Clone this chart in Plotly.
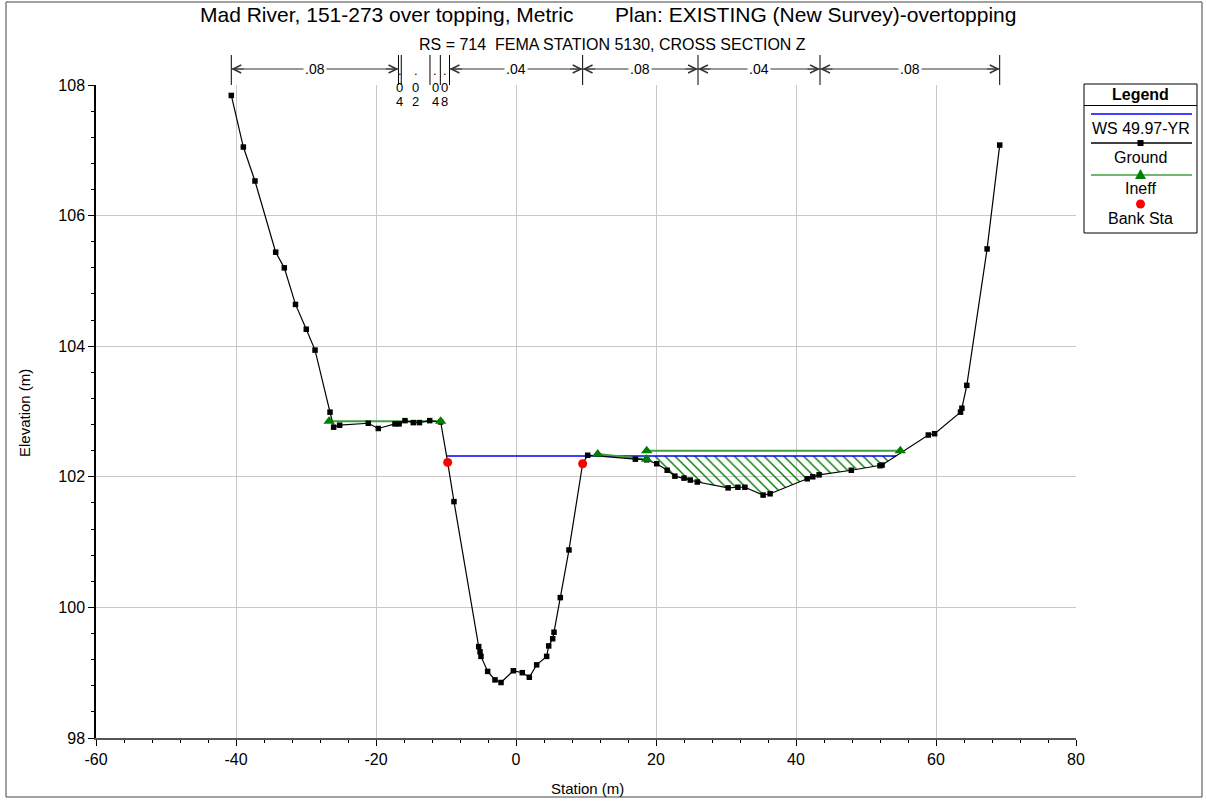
import numpy as np
import plotly.graph_objects as go

# ---- Cross-section data ------------------------------------------------------
ground_sta = [-40.67, -38.95, -37.29, -34.33, -33.10, -31.50, -29.96, -28.71, -26.57, -26.05,
              -25.19, -21.10, -19.67, -17.29, -16.70, -15.86, -14.67, -13.80, -12.33, -10.76,
              -9.76, -8.86, -5.33, -5.14, -5.00, -4.05, -3.00, -2.14, -0.38, 0.90,
              1.90, 2.95, 4.38, 4.67, 5.24, 5.43, 6.33, 7.57, 9.52, 10.24,
              17.05, 18.67, 20.10, 21.60, 22.70, 24.00, 24.90, 25.90, 30.30, 31.70,
              32.70, 35.30, 36.30, 41.60, 42.40, 43.30, 47.90, 52.00, 52.30, 58.90,
              59.80, 63.50, 63.70, 64.40, 67.30, 69.10]
ground_elev = [107.84, 107.05, 106.53, 105.44, 105.20, 104.64, 104.26, 103.94, 102.99, 102.76,
               102.79, 102.82, 102.74, 102.81, 102.81, 102.86, 102.83, 102.83, 102.86, 102.84,
               102.22, 101.62, 99.40, 99.32, 99.25, 99.02, 98.89, 98.85, 99.03, 99.00,
               98.93, 99.12, 99.25, 99.41, 99.52, 99.62, 100.15, 100.88, 102.20, 102.33,
               102.27, 102.26, 102.20, 102.10, 102.01, 101.98, 101.95, 101.92, 101.83, 101.84,
               101.84, 101.72, 101.74, 101.97, 102.00, 102.03, 102.10, 102.17, 102.18, 102.64,
               102.66, 102.99, 103.05, 103.40, 105.49, 107.08]

bank_sta = [-9.76, 9.52]
bank_elev = [102.22, 102.20]

ws_elev = 102.32
ws_name = "WS 49.97-YR"

# Ineffective flow areas (start/end station and elevation)
ineff_sta = [[-26.70, -10.76], [11.67, 18.67], [18.67, 54.90]]
ineff_elev = [[102.85, 102.85], [102.35, 102.27], [102.40, 102.40]]
hatch_area = [18.67, 54.90]

# Manning's n breakpoints and values
n_sta = [-40.67, -16.79, -16.39, -12.29, -10.81, -9.50, 9.52, 26.00, 43.43, 69.10]
n_val = [".08", ".04", ".02", ".04", ".08", ".04", ".08", ".04", ".08"]

x_ticks = [-60, -40, -20, 0, 20, 40, 60, 80]
x_ticktext = ["-60", "-40", "-20", "0", "20", "40", "60", "80"]
y_ticks = [98, 100, 102, 104, 106, 108]

title_left = "Mad River, 151-273 over topping, Metric"
title_right = "Plan: EXISTING (New Survey)-overtopping"
subtitle = "RS = 714  FEMA STATION 5130, CROSS SECTION Z"

# ---- Page geometry ---------------------------------------------------------
W, H = 1207, 801
L, R, T, B = 96, 1076, 85, 738
FONT = "Liberation Sans, Arial, sans-serif"


def fx(p):
    return (p - L) / (R - L)


def fy(p):
    return (B - p) / (B - T)


def label(x, y, text, size, xref="paper", **kw):
    d = dict(xref=xref, yref="paper", x=x, y=y, text=text, showarrow=False,
             xanchor="center", yanchor="middle",
             font=dict(family=FONT, size=size, color="black"))
    d.update(kw)
    return d


gs = np.array(ground_sta)
ge = np.array(ground_elev)


# water surface extent: where the ground crosses the WS on each side
def crossing(i0, i1):
    x0, x1, y0, y1 = gs[i0], gs[i1], ge[i0], ge[i1]
    return x0 + (ws_elev - y0) / (y1 - y0) * (x1 - x0)


il = int(np.where(gs == bank_sta[0])[0][0])
ws_left = crossing(il - 1, il)
right_idx = np.where(gs > hatch_area[0])[0]
ir = int(right_idx[np.argmax(ge[right_idx] > ws_elev)])
ws_right = crossing(ir - 1, ir)

# hatched ineffective region between WS and ground
h0 = hatch_area[0]
h1 = min(hatch_area[1], ws_right)
inside = (gs > h0) & (gs < h1)
hx = [h0, h0] + list(gs[inside]) + [h1, h0]
hy = [ws_elev, float(np.interp(h0, gs, ge))] + list(ge[inside]) + [ws_elev, ws_elev]

fig = go.Figure()

fig.add_trace(go.Scatter(
    x=hx, y=hy, mode="lines", fill="toself", line=dict(width=0),
    fillcolor="rgba(0,0,0,0)",
    fillpattern=dict(shape="\\", fgcolor="#007a00", bgcolor="rgba(0,0,0,0)",
                     fgopacity=1, size=7, solidity=0.2),
    hoverinfo="skip", showlegend=False))

fig.add_trace(go.Scatter(
    x=[ws_left, ws_right], y=[ws_elev, ws_elev], mode="lines",
    line=dict(color="#0000ff", width=1.5), name=ws_name, showlegend=False))

ix, iy = [], []
for s, e in zip(ineff_sta, ineff_elev):
    ix += s + [None]
    iy += e + [None]
fig.add_trace(go.Scatter(
    x=ix, y=iy, mode="lines", line=dict(color="#3fa03f", width=2),
    showlegend=False, hoverinfo="skip"))

fig.add_trace(go.Scatter(
    x=ground_sta, y=ground_elev, mode="lines+markers", name="Ground",
    line=dict(color="black", width=1.2),
    marker=dict(symbol="square", size=5.5, color="black"), showlegend=False))

fig.add_trace(go.Scatter(
    x=ix, y=iy, mode="markers", name="Ineff",
    marker=dict(symbol="triangle-up", size=10, color="#008000"), showlegend=False))

fig.add_trace(go.Scatter(
    x=bank_sta, y=bank_elev, mode="markers", name="Bank Sta",
    marker=dict(symbol="circle", size=9, color="#ff0000"), showlegend=False))

shapes = []
annotations = []

# outer frame
shapes.append(dict(type="rect", xref="paper", yref="paper",
                   x0=fx(6), x1=fx(1202), y0=fy(797), y1=fy(2),
                   line=dict(color="#444444", width=1)))

# titles
annotations.append(label(fx(387), fy(14), title_left, 21))
annotations.append(label(fx(815), fy(14), title_right, 21))
annotations.append(label(fx(612), fy(44), subtitle, 16))

# Manning's n brackets
y_arrow = fy(69)
for s in n_sta:
    shapes.append(dict(type="line", xref="x", yref="paper", x0=s, x1=s,
                       y0=fy(85), y1=fy(55), line=dict(color="black", width=1)))
for s0, s1, v in zip(n_sta[:-1], n_sta[1:], n_val):
    mid = 0.5 * (s0 + s1)
    if s1 - s0 > 8:
        shapes.append(dict(type="line", xref="x", yref="paper", x0=s0, x1=s1,
                           y0=y_arrow, y1=y_arrow, line=dict(color="#333333", width=1)))
        for xe, off in ((s0, 14), (s1, -14)):
            annotations.append(dict(xref="x", yref="paper", x=xe, y=y_arrow, ax=off, ay=0,
                                    text="", showarrow=True, arrowhead=5, arrowsize=1.6,
                                    arrowwidth=1, arrowcolor="#333333", standoff=0))
        annotations.append(label(mid, y_arrow, v, 14, xref="x", bgcolor="white", borderpad=1))
    else:
        for ch, yy in zip(v, (70, 87, 101)):
            annotations.append(label(mid, fy(yy), ch, 13, xref="x"))

# axis titles
annotations.append(label(fx(587), fy(788), "Station (m)", 15))
annotations.append(label(fx(24), fy(413), "Elevation (m)", 15, textangle=-90))

# legend panel
lx0, lx1, lxc = 1084, 1197, 1140.5
shapes.append(dict(type="rect", xref="paper", yref="paper", x0=fx(lx0), x1=fx(lx1),
                   y0=fy(233), y1=fy(84), line=dict(color="black", width=1),
                   fillcolor="white"))
shapes.append(dict(type="line", xref="paper", yref="paper", x0=fx(lx0), x1=fx(lx1),
                   y0=fy(105.5), y1=fy(105.5), line=dict(color="black", width=1)))
annotations.append(label(fx(lxc), fy(95), "<b>Legend</b>", 16))
legend_rows = [(ws_name, 114, 128, "#0000ff", None),
               ("Ground", 143, 157, "black", "square"),
               ("Ineff", 175, 188, "#3fa03f", "triangle"),
               ("Bank Sta", None, 218, None, "circle")]
for name, yl, yt, col, mk in legend_rows:
    if yl is not None:
        shapes.append(dict(type="line", xref="paper", yref="paper", x0=fx(1091), x1=fx(1192),
                           y0=fy(yl), y1=fy(yl), line=dict(color=col, width=1.5)))
    if mk == "square":
        shapes.append(dict(type="rect", xref="paper", yref="paper",
                           x0=fx(lxc - 3), x1=fx(lxc + 3), y0=fy(yl + 3), y1=fy(yl - 3),
                           fillcolor="black", line=dict(width=0)))
    elif mk == "triangle":
        shapes.append(dict(type="path", xref="paper", yref="paper",
                           path="M {} {} L {} {} L {} {} Z".format(
                               fx(lxc - 5.5), fy(yl + 4), fx(lxc + 5.5), fy(yl + 4),
                               fx(lxc), fy(yl - 6)),
                           fillcolor="#008000", line=dict(width=0)))
    elif mk == "circle":
        shapes.append(dict(type="circle", xref="paper", yref="paper",
                           x0=fx(lxc - 4.5), x1=fx(lxc + 4.5), y0=fy(204 + 4.5), y1=fy(204 - 4.5),
                           fillcolor="#ff0000", line=dict(width=0)))
    annotations.append(label(fx(lxc), fy(yt), name, 16))

fig.update_layout(
    width=W, height=H, autosize=False,
    margin=dict(l=L, r=W - R, t=T, b=H - B, pad=0),
    paper_bgcolor="white", plot_bgcolor="white",
    showlegend=False,
    shapes=shapes, annotations=annotations,
    xaxis=dict(range=[-60, 80], tickvals=x_ticks, ticktext=x_ticktext, ticks="outside",
               ticklen=6, tickcolor="black", showline=True, linecolor="#555555", linewidth=2,
               showgrid=True, gridcolor="#c8c8c8", gridwidth=1, zeroline=False,
               tickfont=dict(family=FONT, size=16, color="black"),
               minor=dict(tick0=0, dtick=4, ticks="outside", ticklen=3, tickcolor="black",
                          showgrid=False)),
    yaxis=dict(range=[98, 108], tickvals=y_ticks, ticks="outside", ticklen=6,
               tickcolor="black", showline=True, linecolor="black", linewidth=1.5,
               showgrid=True, gridcolor="#c8c8c8", gridwidth=1, zeroline=False,
               tickfont=dict(family=FONT, size=16, color="black"),
               minor=dict(tick0=98, dtick=0.4, ticks="outside", ticklen=3, tickcolor="black",
                          showgrid=False)),
)

fig.write_html("out.html")
